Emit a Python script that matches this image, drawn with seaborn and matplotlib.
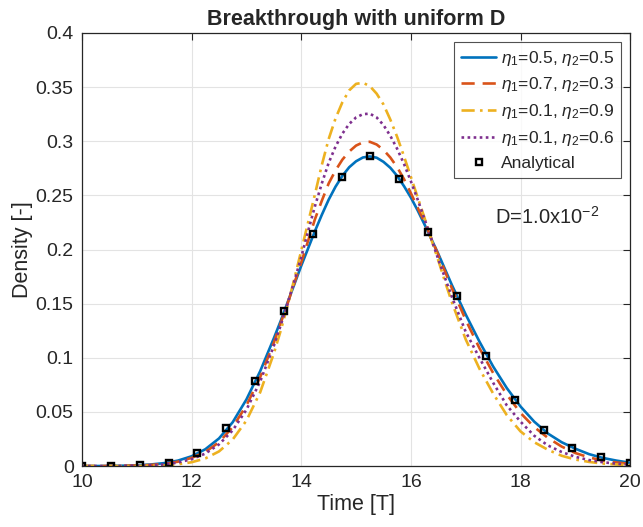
import numpy as np
import pandas as pd
import seaborn as sns
import matplotlib
matplotlib.use("Agg")
import matplotlib.pyplot as plt

# time points the curves were read at (finer around the peak)
time = [10.0, 10.25, 10.5, 10.75, 11.0, 11.25, 11.5, 11.75, 12.0, 12.25, 12.5, 12.75, 13.0, 13.25,
        13.5, 13.625, 13.75, 13.875, 14.0, 14.125, 14.25, 14.375, 14.5, 14.625, 14.75, 14.875,
        15.0, 15.125, 15.25, 15.375, 15.5, 15.625, 15.75, 15.875, 16.0, 16.125, 16.25, 16.375,
        16.5, 16.625, 16.75, 16.875, 17.0,
        17.25, 17.5, 17.75, 18.0, 18.25, 18.5, 18.75, 19.0, 19.25, 19.5, 19.75, 20.0]

# eta1=0.5, eta2=0.5
d_05_05 = [0.0, 0.0, 0.0001, 0.0003, 0.0007, 0.0014, 0.0027, 0.0050, 0.0090, 0.0155, 0.0255, 0.0405, 0.0615, 0.0875,
           0.118, 0.134, 0.151, 0.168, 0.185, 0.201, 0.217, 0.232, 0.246, 0.258, 0.268, 0.276,
           0.2815, 0.285, 0.286, 0.2848, 0.281, 0.2755, 0.268, 0.2585, 0.248, 0.236, 0.223, 0.2095,
           0.196, 0.1815, 0.167, 0.1535, 0.140,
           0.115, 0.092, 0.072, 0.055, 0.041, 0.030, 0.022, 0.016, 0.011, 0.0075, 0.005, 0.003]
# eta1=0.7, eta2=0.3
d_07_03 = [0.0, 0.0, 0.0001, 0.0002, 0.0005, 0.0010, 0.0020, 0.0040, 0.0075, 0.0130, 0.0220, 0.0360, 0.0560, 0.0820,
           0.114, 0.132, 0.150, 0.169, 0.188, 0.208, 0.228, 0.245, 0.261, 0.273, 0.283, 0.2905,
           0.296, 0.299, 0.2995, 0.297, 0.292, 0.285, 0.276, 0.265, 0.252, 0.2385, 0.225, 0.210,
           0.195, 0.1795, 0.164, 0.1495, 0.135,
           0.109, 0.086, 0.066, 0.049, 0.036, 0.026, 0.018, 0.012, 0.008, 0.005, 0.0033, 0.002]
# eta1=0.1, eta2=0.9
d_01_09 = [0.0, 0.0, 0.0, 0.0, 0.0001, 0.0003, 0.0007, 0.0016, 0.0035, 0.0070, 0.0135, 0.0245, 0.0420, 0.0680,
           0.104, 0.125, 0.148, 0.173, 0.199, 0.225, 0.251, 0.278, 0.302, 0.321, 0.336, 0.347,
           0.353, 0.354, 0.351, 0.344, 0.334, 0.320, 0.304, 0.286, 0.267, 0.248, 0.229, 0.209,
           0.190, 0.170, 0.151, 0.134, 0.117,
           0.090, 0.067, 0.047, 0.032, 0.022, 0.015, 0.0095, 0.006, 0.0038, 0.0023, 0.0014, 0.0008]
# eta1=0.1, eta2=0.6
d_01_06 = [0.0, 0.0, 0.0, 0.0001, 0.0003, 0.0007, 0.0015, 0.0032, 0.0063, 0.0115, 0.0200, 0.0330, 0.0520, 0.0780,
           0.111, 0.130, 0.150, 0.171, 0.193, 0.217, 0.240, 0.261, 0.280, 0.295, 0.307, 0.316,
           0.322, 0.325, 0.3255, 0.322, 0.315, 0.305, 0.293, 0.279, 0.263, 0.246, 0.228, 0.2095,
           0.191, 0.1735, 0.156, 0.140, 0.124,
           0.100, 0.077, 0.056, 0.041, 0.028, 0.019, 0.013, 0.0085, 0.0055, 0.0035, 0.0022, 0.0013]

# analytical solution samples
t_exact = np.linspace(10, 20, 20)
d_exact = [0.0, 0.0, 0.0007, 0.003, 0.012, 0.035, 0.079, 0.143, 0.214, 0.267,
           0.286, 0.265, 0.216, 0.157, 0.102, 0.061, 0.033, 0.017, 0.008, 0.003]

labels = [r"$\eta_1$=0.5, $\eta_2$=0.5", r"$\eta_1$=0.7, $\eta_2$=0.3",
          r"$\eta_1$=0.1, $\eta_2$=0.9", r"$\eta_1$=0.1, $\eta_2$=0.6"]

sns.set_style("white")
plt.rcParams["font.family"] = ["Liberation Sans", "DejaVu Sans"]
plt.rcParams["mathtext.fontset"] = "custom"
plt.rcParams["mathtext.rm"] = "Liberation Sans"
plt.rcParams["mathtext.it"] = "Liberation Sans:italic"

fig = plt.figure(figsize=(6.43, 5.27), dpi=100)
ax = fig.add_axes([0.1275, 0.1157, 0.8525, 0.8217])

series = [d_05_05, d_07_03, d_01_09, d_01_06]
colors = ["#0072BD", "#D95319", "#EDB120", "#7E2F8E"]
dash_styles = ["-", (0, (5, 3)), (0, (5, 2, 1, 2)), (0, (1, 1.3))]

for vals, lab, col, ls in zip(series, labels, colors, dash_styles):
    df = pd.DataFrame({"time": time, "density": vals})
    sns.lineplot(data=df, x="time", y="density", color=col, linestyle=ls,
                 lw=1.9, label=lab, ax=ax)

exact = pd.DataFrame({"time": t_exact, "density": d_exact})
sns.lineplot(data=exact, x="time", y="density", marker="s", linestyle="",
             mfc="none", mec="k", ms=4.3, mew=1.7, label="Analytical", ax=ax)

ax.set_xlim(10, 20)
ax.set_ylim(0, 0.4)
ax.set_xticks(np.arange(10, 21, 2))
ax.set_yticks(np.arange(0, 0.41, 0.05))
ax.set_yticklabels(["0", "0.05", "0.1", "0.15", "0.2", "0.25", "0.3", "0.35", "0.4"])
ax.grid(True, color="#e3e3e3", lw=0.8)
ax.tick_params(direction="in", top=True, right=True, length=5, width=0.8,
               labelsize=14, colors="#262626", pad=6)
for s in ax.spines.values():
    s.set_color("#262626")
    s.set_linewidth(0.9)

ax.set_xlabel("Time [T]", fontsize=15.5, color="#262626", labelpad=2)
ax.set_ylabel("Density [-]", fontsize=15.5, color="#262626", labelpad=2)
ax.set_title("Breakthrough with uniform D", fontsize=15.5, fontweight="bold", pad=6)

ax.text(17.54, 0.230, r"D=1.0x10$^{-2}$", fontsize=14.5, va="center", ha="left")

leg = ax.legend(loc="upper right", fontsize=12.5, handlelength=2.0,
                frameon=True, fancybox=False, edgecolor="#262626",
                borderaxespad=0.5, handletextpad=0.3, labelspacing=0.45,
                borderpad=0.4)
leg.get_frame().set_linewidth(0.8)

fig.savefig("out.png", dpi=100)
